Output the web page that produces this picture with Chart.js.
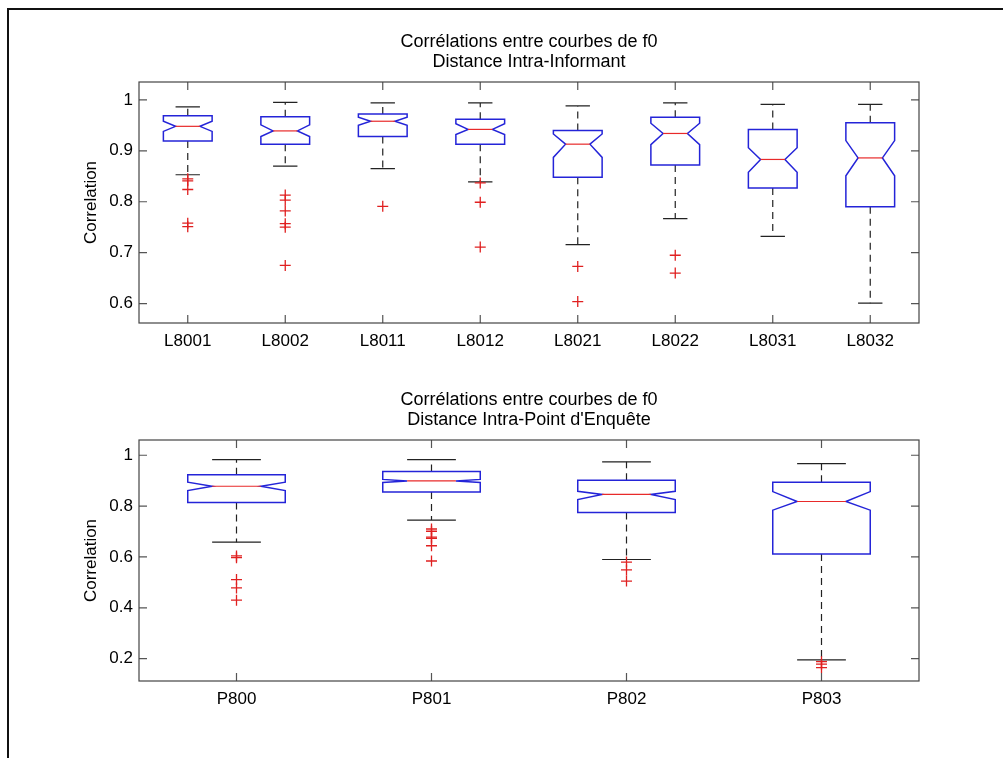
<!DOCTYPE html>
<html>
<head>
<meta charset="utf-8">
<script src="https://cdn.jsdelivr.net/npm/chart.js@4.4.1/dist/chart.umd.min.js"></script>
<style>
  html, body { margin: 0; padding: 0; background: #fff; overflow: hidden; }
  body { width: 1003px; height: 758px; position: relative; }
  #frame { position: absolute; left: 7px; top: 8px; width: 1100px; height: 900px;
           border-left: 2.5px solid #111; border-top: 2.5px solid #111; }
  canvas { position: absolute; left: 0; }
  #top-chart { top: 0; }
  #bottom-chart { top: 358px; }
</style>
</head>
<body>
<div id="frame"></div>
<canvas id="top-chart" width="1003" height="370"></canvas>
<canvas id="bottom-chart" width="1003" height="370"></canvas>
<script>
// Top panel: Distance Intra-Informant
const topCategories = ['L8001', 'L8002', 'L8011', 'L8012', 'L8021', 'L8022', 'L8031', 'L8032'];
const topUpper   = [0.986, 0.995, 0.994, 0.994, 0.988, 0.994, 0.991, 0.991];
const topQ3      = [0.969, 0.967, 0.972, 0.962, 0.940, 0.966, 0.942, 0.955];
const topMedian  = [0.948, 0.939, 0.958, 0.942, 0.913, 0.934, 0.883, 0.886];
const topQ1      = [0.919, 0.913, 0.928, 0.913, 0.848, 0.872, 0.827, 0.790];
const topLower   = [0.853, 0.870, 0.865, 0.839, 0.716, 0.767, 0.732, 0.601];
const topNotchHi = [0.958, 0.951, 0.966, 0.953, 0.933, 0.954, 0.906, 0.920];
const topNotchLo = [0.938, 0.928, 0.950, 0.932, 0.887, 0.912, 0.858, 0.851];
const topOutliers = [
  [0.845, 0.841, 0.824, 0.758, 0.751],
  [0.813, 0.803, 0.782, 0.757, 0.750, 0.675],
  [0.791],
  [0.837, 0.799, 0.711],
  [0.673, 0.604],
  [0.695, 0.660],
  [],
  []
];
const topTicks = [0.6, 0.7, 0.8, 0.9, 1];

// Bottom panel: Distance Intra-Point d'Enquête
const botCategories = ['P800', 'P801', 'P802', 'P803'];
const botUpper   = [0.983, 0.983, 0.974, 0.967];
const botQ3      = [0.923, 0.936, 0.902, 0.894];
const botMedian  = [0.878, 0.899, 0.846, 0.818];
const botQ1      = [0.814, 0.855, 0.775, 0.612];
const botLower   = [0.658, 0.745, 0.590, 0.195];
const botNotchHi = [0.894, 0.905, 0.858, 0.857];
const botNotchLo = [0.861, 0.893, 0.826, 0.784];
const botOutliers = [
  [0.604, 0.597, 0.511, 0.478, 0.430],
  [0.710, 0.701, 0.678, 0.673, 0.644, 0.584],
  [0.580, 0.549, 0.505],
  [0.188, 0.178, 0.165]
];
const botTicks = [0.2, 0.4, 0.6, 0.8, 1];

const FONT = "'Liberation Sans', Arial, sans-serif";

// draws notched boxes + whiskers behind the outlier points
const boxPlugin = {
  id: 'notchedBoxes',
  beforeDatasetsDraw(chart) {
    const s = chart.options.plugins.notchedBoxes;
    const x = chart.scales.x, y = chart.scales.y, ctx = chart.ctx;
    const step = x.getPixelForValue(1) - x.getPixelForValue(0);
    const hw = step / 4, hc = step / 8, hn = hw * 0.5;
    ctx.save();
    for (let i = 0; i < s.median.length; i++) {
      const cx = x.getPixelForValue(i);
      const yUp = y.getPixelForValue(s.upper[i]);
      const y3 = y.getPixelForValue(s.q3[i]);
      const yMed = y.getPixelForValue(s.median[i]);
      const y1 = y.getPixelForValue(s.q1[i]);
      const yLo = y.getPixelForValue(s.lower[i]);
      const nHi = y.getPixelForValue(s.notchHi[i]);
      const nLo = y.getPixelForValue(s.notchLo[i]);

      // whiskers
      ctx.strokeStyle = '#222';
      ctx.lineWidth = 1.2;
      ctx.setLineDash([7, 5]);
      ctx.beginPath();
      ctx.moveTo(cx, y3); ctx.lineTo(cx, yUp);
      ctx.moveTo(cx, y1); ctx.lineTo(cx, yLo);
      ctx.stroke();
      ctx.setLineDash([]);
      ctx.beginPath();
      ctx.moveTo(cx - hc, yUp); ctx.lineTo(cx + hc, yUp);
      ctx.moveTo(cx - hc, yLo); ctx.lineTo(cx + hc, yLo);
      ctx.stroke();

      // notched box
      ctx.fillStyle = '#fff';
      ctx.strokeStyle = '#2424d8';
      ctx.lineWidth = 1.5;
      ctx.beginPath();
      ctx.moveTo(cx - hw, y3);
      ctx.lineTo(cx - hw, nHi);
      ctx.lineTo(cx - hn, yMed);
      ctx.lineTo(cx - hw, nLo);
      ctx.lineTo(cx - hw, y1);
      ctx.lineTo(cx + hw, y1);
      ctx.lineTo(cx + hw, nLo);
      ctx.lineTo(cx + hn, yMed);
      ctx.lineTo(cx + hw, nHi);
      ctx.lineTo(cx + hw, y3);
      ctx.closePath();
      ctx.fill();
      ctx.stroke();

      // median
      ctx.strokeStyle = '#e82a2a';
      ctx.lineWidth = 1.2;
      ctx.beginPath();
      ctx.moveTo(cx - hn, yMed); ctx.lineTo(cx + hn, yMed);
      ctx.stroke();
    }
    ctx.restore();
  },
  afterDraw(chart) {
    const s = chart.options.plugins.notchedBoxes;
    const x = chart.scales.x, y = chart.scales.y, ctx = chart.ctx;
    const a = chart.chartArea;
    const tl = 8;
    ctx.save();
    ctx.strokeStyle = '#555';
    ctx.lineWidth = 1.2;
    ctx.beginPath();
    s.ticks.forEach(v => {
      const py = y.getPixelForValue(v);
      ctx.moveTo(a.left, py); ctx.lineTo(a.left + tl, py);
      ctx.moveTo(a.right, py); ctx.lineTo(a.right - tl, py);
    });
    for (let i = 0; i < s.median.length; i++) {
      const px = x.getPixelForValue(i);
      ctx.moveTo(px, a.top); ctx.lineTo(px, a.top + tl);
      ctx.moveTo(px, a.bottom); ctx.lineTo(px, a.bottom - tl);
    }
    ctx.stroke();
    ctx.strokeStyle = '#444';
    ctx.strokeRect(a.left, a.top, a.right - a.left, a.bottom - a.top);

    // two-line title centred over the plot area
    ctx.fillStyle = '#000';
    ctx.font = '18px ' + FONT;
    ctx.textAlign = 'center';
    ctx.textBaseline = 'alphabetic';
    const mid = (a.left + a.right) / 2;
    ctx.fillText(s.title[0], mid, a.top - 35);
    ctx.fillText(s.title[1], mid, a.top - 15);
    ctx.restore();
  }
};

function makeChart(id, cats, yMin, yMax, ticks, stats, outliers) {
  const points = [];
  outliers.forEach((list, i) => list.forEach(v => points.push({ x: cats[i], y: v })));
  return new Chart(document.getElementById(id), {
    type: 'line',
    data: {
      labels: cats,
      datasets: [{
        data: points,
        showLine: false,
        pointStyle: 'cross',
        pointRadius: 5.5,
        pointBorderWidth: 1.3,
        pointBorderColor: '#e02020',
        pointBackgroundColor: '#e02020'
      }]
    },
    options: {
      responsive: false,
      animation: false,
      layout: { padding: { top: 82, right: 84, left: 0, bottom: 0 } },
      plugins: {
        legend: { display: false },
        tooltip: { enabled: false },
        notchedBoxes: Object.assign({ ticks: ticks }, stats)
      },
      scales: {
        x: {
          type: 'category',
          offset: true,
          grid: { display: false, drawTicks: false },
          border: { display: false },
          ticks: { color: '#000', font: { family: FONT, size: 17 }, padding: 8, maxRotation: 0, autoSkip: false },
          afterFit: scale => { scale.height = 47; }
        },
        y: {
          min: yMin,
          max: yMax,
          afterBuildTicks: scale => { scale.ticks = ticks.map(v => ({ value: v })); },
          grid: { display: false, drawTicks: false },
          border: { display: false },
          ticks: { color: '#000', font: { family: FONT, size: 17 }, padding: 6, callback: v => String(v) },
          title: { display: true, text: 'Correlation', color: '#000', font: { family: FONT, size: 17 }, padding: { top: 81, bottom: 0 } },
          afterFit: scale => { scale.width = 139; }
        }
      }
    },
    plugins: [boxPlugin]
  });
}

makeChart('top-chart', topCategories, 0.562, 1.035, topTicks, {
  upper: topUpper, q3: topQ3, median: topMedian, q1: topQ1, lower: topLower,
  notchHi: topNotchHi, notchLo: topNotchLo,
  title: ['Corrélations entre courbes de f0', 'Distance Intra-Informant']
}, topOutliers);

makeChart('bottom-chart', botCategories, 0.112, 1.06, botTicks, {
  upper: botUpper, q3: botQ3, median: botMedian, q1: botQ1, lower: botLower,
  notchHi: botNotchHi, notchLo: botNotchLo,
  title: ['Corrélations entre courbes de f0', "Distance Intra-Point d'Enquête"]
}, botOutliers);
</script>
</body>
</html>
